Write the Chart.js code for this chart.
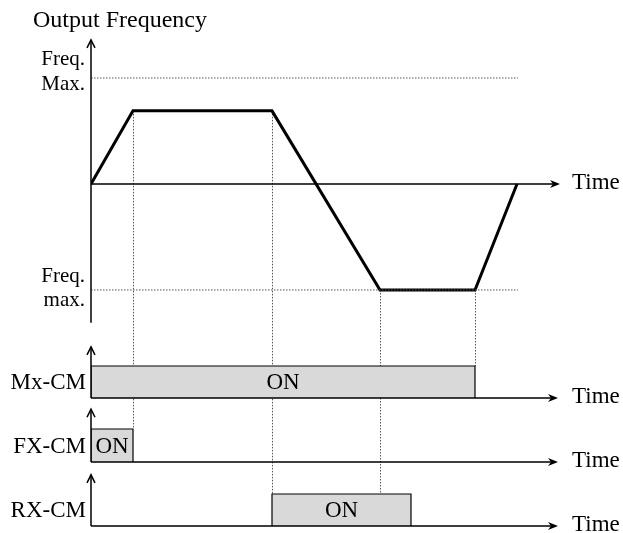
<!DOCTYPE html>
<html lang="en">
<head>
<meta charset="UTF-8">
<title>Output Frequency timing</title>
<script src="https://cdn.jsdelivr.net/npm/chart.js"></script>
<style>
  body { margin: 0; background: white; }
  canvas { display: block; }
</style>
</head>
<body>
<canvas id="timing" width="623" height="533"></canvas>
<script>
// switching instants on the time axis (arbitrary units)
var times = [0, 4.2, 18.1, 28.9, 38.4, 42.6];
// output frequency at those instants, as a fraction of Freq. Max.
var freqOut = [0, 0.69, 0.69, -1, -1, 0];
var freqLimits = [1, -1];
var freqLimitEnd = 42.7;
// ON interval of each terminal
var mxOn = [0, 38.4];
var fxOn = [0, 4.2];
var rxOn = [18.1, 32.0];
// dotted guides: time, value on the trace where they start, signal they drop to
var guideTimes = [4.2, 18.1, 28.9, 38.4];
var guideFrom = [0.69, 0.69, -1, -1];
var guideTo = ['yFx', 'yRx', 'yRx', 'yMx'];
var signalNames = ['Mx-CM', 'FX-CM', 'RX-CM'];
var signalAxes = ['yMx', 'yFx', 'yRx'];
var timeMax = 46.9;
var freqAxisSpan = [-1.31, 1.36];
var signalAxisTop = 1.6;

var SERIF = '"Liberation Serif", "Times New Roman", serif';
var FONT = '23px ' + SERIF;

function pulse(on) {
    return [{x: on[0], y: 0}, {x: on[0], y: 1}, {x: on[1], y: 1}, {x: on[1], y: 0}];
}

var datasets = [];
freqLimits.forEach(function(v) {
    datasets.push({
        data: [{x: 0, y: v}, {x: freqLimitEnd, y: v}],
        yAxisID: 'yF', borderColor: '#555', borderWidth: 1, borderDash: [1.5, 1.5],
        pointRadius: 0, fill: false
    });
});
datasets.push({
    data: times.map(function(t, i) { return {x: t, y: freqOut[i]}; }),
    yAxisID: 'yF', borderColor: '#000', borderWidth: 3, borderJoinStyle: 'miter',
    pointRadius: 0, fill: false
});
[mxOn, fxOn, rxOn].forEach(function(on, i) {
    datasets.push({
        data: pulse(on),
        yAxisID: signalAxes[i], borderColor: '#000', borderWidth: 1.2,
        backgroundColor: '#d9d9d9', fill: 'origin', pointRadius: 0
    });
});

function arrowRight(c, x, y) {
    c.beginPath();
    c.moveTo(x, y);
    c.lineTo(x - 10, y - 4);
    c.lineTo(x - 7, y);
    c.lineTo(x - 10, y + 4);
    c.closePath();
    c.fill();
}
function arrowUp(c, x, y) {
    c.beginPath();
    c.moveTo(x - 4, y + 8);
    c.lineTo(x, y);
    c.lineTo(x + 4, y + 8);
    c.stroke();
}

var diagram = {
    id: 'diagram',
    beforeDatasetsDraw: function(chart) {
        var c = chart.ctx, x = chart.scales.x, yF = chart.scales.yF;
        c.save();
        c.strokeStyle = '#555';
        c.lineWidth = 1;
        c.setLineDash([1.5, 1.5]);
        guideTimes.forEach(function(t, i) {
            var px = Math.round(x.getPixelForValue(t)) + 0.5;
            c.beginPath();
            c.moveTo(px, yF.getPixelForValue(guideFrom[i]));
            c.lineTo(px, chart.scales[guideTo[i]].getPixelForValue(1));
            c.stroke();
        });
        c.restore();
    },
    afterDatasetsDraw: function(chart) {
        var c = chart.ctx, x = chart.scales.x;
        var x0 = x.getPixelForValue(0), x1 = x.getPixelForValue(timeMax);
        c.save();
        c.strokeStyle = '#000';
        c.fillStyle = '#000';
        c.lineWidth = 1.5;
        var panels = [{id: 'yF', lo: freqAxisSpan[0], hi: freqAxisSpan[1], end: x1}];
        signalAxes.forEach(function(id) { panels.push({id: id, lo: 0, hi: signalAxisTop, end: x1 - 2}); });
        panels.forEach(function(p) {
            var s = chart.scales[p.id];
            var yz = s.getPixelForValue(0), ytop = s.getPixelForValue(p.hi);
            c.beginPath();
            c.moveTo(x0, s.getPixelForValue(p.lo));
            c.lineTo(x0, ytop);
            c.moveTo(x0, yz);
            c.lineTo(p.end - 6, yz);
            c.stroke();
            arrowUp(c, x0, ytop);
            arrowRight(c, p.end, yz);
        });
        c.restore();
    },
    afterDraw: function(chart) {
        var c = chart.ctx, x = chart.scales.x, yF = chart.scales.yF;
        var x0 = x.getPixelForValue(0), x1 = x.getPixelForValue(timeMax);
        c.save();
        c.fillStyle = '#000';
        c.textBaseline = 'alphabetic';
        c.textAlign = 'left';
        c.font = '24px ' + SERIF;
        c.fillText('Output Frequency', x0 - 58, 27);

        c.textBaseline = 'middle';
        c.textAlign = 'right';
        c.font = '21px ' + SERIF;
        var up = yF.getPixelForValue(freqLimits[0]), dn = yF.getPixelForValue(freqLimits[1]);
        c.fillText('Freq.', x0 - 6, up - 19);
        c.fillText('Max.', x0 - 6, up + 6);
        c.fillText('Freq.', x0 - 6, dn - 13);
        c.fillText('max.', x0 - 6, dn + 11);

        c.font = FONT;
        signalAxes.forEach(function(id, i) {
            c.fillText(signalNames[i], x0 - 5, chart.scales[id].getPixelForValue(0.5) + 1);
        });

        c.textAlign = 'left';
        c.fillText('Time', x1 + 12, yF.getPixelForValue(0) - 1);
        signalAxes.forEach(function(id) {
            c.fillText('Time', x1 + 12, chart.scales[id].getPixelForValue(0) - 1);
        });

        c.textAlign = 'center';
        [mxOn, fxOn, rxOn].forEach(function(on, i) {
            var mid = x.getPixelForValue((on[0] + on[1]) / 2);
            c.fillText('ON', mid, chart.scales[signalAxes[i]].getPixelForValue(0.5) + 1);
        });
        c.restore();
    }
};

var ctx = document.getElementById('timing').getContext('2d');
var chart = new Chart(ctx, {
    type: 'line',
    data: { datasets: datasets },
    options: {
        responsive: false,
        animation: false,
        events: [],
        layout: { padding: { left: 91, right: 63, top: 30, bottom: 0 } },
        plugins: { legend: { display: false }, tooltip: { enabled: false } },
        scales: {
            x: { type: 'linear', min: 0, max: timeMax, display: false },
            yF: { type: 'linear', position: 'left', stack: 'panels', stackWeight: 305, weight: 4,
                  min: -1.425, max: 1.453, display: false },
            yMx: { type: 'linear', position: 'left', stack: 'panels', stackWeight: 69, weight: 3,
                   min: -0.1875, max: 1.969, display: false },
            yFx: { type: 'linear', position: 'left', stack: 'panels', stackWeight: 64, weight: 2,
                   min: -0.182, max: 1.758, display: false },
            yRx: { type: 'linear', position: 'left', stack: 'panels', stackWeight: 65, weight: 1,
                   min: -0.219, max: 1.8125, display: false }
        }
    },
    plugins: [diagram]
});
</script>
</body>
</html>
